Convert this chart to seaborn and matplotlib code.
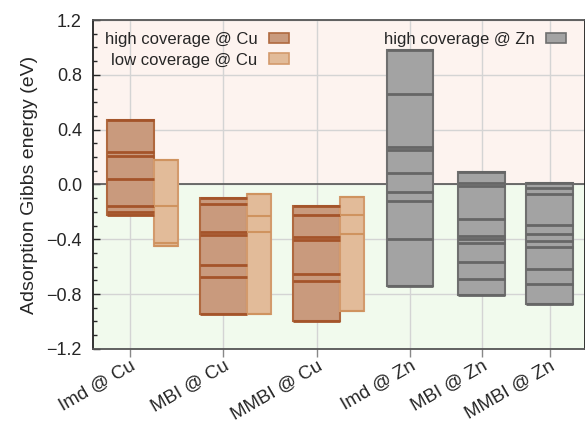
import numpy as np
import pandas as pd
import matplotlib
matplotlib.use("Agg")
import matplotlib.pyplot as plt
import seaborn as sns
from matplotlib.patches import Patch

categories = ["Imd @ Cu", "MBI @ Cu", "MMBI @ Cu", "Imd @ Zn", "MBI @ Zn", "MMBI @ Zn"]

# adsorption energies (eV) of every configuration
cu_high = {
    "Imd @ Cu": [0.47, 0.24, 0.21, 0.04, -0.155, -0.20, -0.22],
    "MBI @ Cu": [-0.10, -0.14, -0.345, -0.37, -0.59, -0.675, -0.945],
    "MMBI @ Cu": [-0.16, -0.22, -0.385, -0.405, -0.655, -0.705, -1.0],
}
cu_low = {
    "Imd @ Cu": [0.18, -0.155, -0.43, -0.45],
    "MBI @ Cu": [-0.07, -0.23, -0.35, -0.945],
    "MMBI @ Cu": [-0.09, -0.22, -0.36, -0.925],
}
zn_high = {
    "Imd @ Zn": [0.98, 0.66, 0.27, 0.25, 0.08, -0.055, -0.12, -0.395, -0.74],
    "MBI @ Zn": [0.09, 0.01, -0.01, -0.255, -0.375, -0.40, -0.43, -0.565, -0.69, -0.81],
    "MMBI @ Zn": [0.01, -0.025, -0.07, -0.295, -0.36, -0.41, -0.46, -0.62, -0.725, -0.87],
}

# horizontal slot of each category on the x axis
slots = [0, 1, 2, 3, 3.77, 4.5]

rows = []
for name, d in [("high coverage @ Cu", cu_high), ("low coverage @ Cu", cu_low), ("high coverage @ Zn", zn_high)]:
    for cat, vals in d.items():
        for v in vals:
            rows.append({"series": name, "cat": cat, "E": v})
df = pd.DataFrame(rows)

sns.set_theme(style="ticks")
plt.rcParams["font.family"] = ["Liberation Sans", "DejaVu Sans"]

styles = {
    "high coverage @ Cu": dict(fc="#c99a7d", ec="#b0693f", lc="#a4542a", lw=2.0, w=0.5, off=0.0),
    "low coverage @ Cu": dict(fc="#e2bb99", ec="#d39a6c", lc="#cf935f", lw=1.5, w=0.26, off=0.38),
    "high coverage @ Zn": dict(fc="#a3a3a3", ec="#6f6f6f", lc="#666666", lw=2.0, w=0.5, off=0.0),
}

fig, ax = plt.subplots(figsize=(5.85, 4.26), dpi=100)
fig.subplots_adjust(left=0.159, right=1.0, bottom=0.181, top=0.953)

ax.axhspan(0, 1.2, color="#fdf3ef", zorder=0)
ax.axhspan(-1.2, 0, color="#f1faed", zorder=0)
ax.grid(True, color="#d4d4d4", lw=1.0, zorder=0.5)
ax.set_axisbelow(True)
ax.axhline(0, color="#555555", lw=1.2, zorder=1)

slot_of = dict(zip(categories, slots))
for series, g in df.groupby("series", sort=False):
    s = styles[series]
    agg = g.groupby("cat", sort=False)["E"].agg(["min", "max"]).reset_index()
    xs = [slot_of[c] + s["off"] for c in agg["cat"]]
    ax.bar(xs, agg["max"] - agg["min"], bottom=agg["min"], width=s["w"],
           color=s["fc"], edgecolor=s["ec"], linewidth=1.5, zorder=2)
    gx = np.array([slot_of[c] + s["off"] for c in g["cat"]])
    ax.hlines(g["E"], gx - s["w"] / 2, gx + s["w"] / 2, color=s["lc"], lw=s["lw"], zorder=3)

ax.set_xlim(-0.4, 4.88)
ax.set_ylim(-1.2, 1.2)
ax.set_xticks(slots)
ax.set_xticklabels(categories, rotation=30, ha="right", va="top", rotation_mode="anchor", fontsize=13.5)
yt = np.arange(-1.2, 1.21, 0.4)
ax.set_yticks(yt)
ax.set_yticklabels([f"{v:.1f}".replace("-", "\u2212") for v in yt], fontsize=13)
ax.set_yticks(np.arange(-1.2, 1.21, 0.1), minor=True)
ax.tick_params(axis="y", which="both", direction="in", length=5, width=1, pad=8)
ax.tick_params(axis="y", which="minor", length=3)
ax.tick_params(axis="x", direction="out", length=6, width=1, color="#888888", pad=0)
ax.set_ylabel("Adsorption Gibbs energy (eV)", fontsize=14, labelpad=6)
for sp in ax.spines.values():
    sp.set_color("#222222")
    sp.set_linewidth(1.3)
ax.spines["bottom"].set_color("#555555")
ax.spines["top"].set_color("#555555")

h1 = [Patch(fc=styles[k]["fc"], ec=styles[k]["ec"], lw=1.2, label=k)
      for k in ["high coverage @ Cu", "low coverage @ Cu"]]
leg1 = ax.legend(handles=h1, loc="upper left", bbox_to_anchor=(0.0, 1.0), frameon=False,
                 markerfirst=False, fontsize=12, handlelength=1.2, handleheight=0.6,
                 labelspacing=0.35, borderaxespad=0.3, handletextpad=0.7)
for t in leg1.get_texts():
    t.set_ha("right")
ax.add_artist(leg1)
h2 = [Patch(fc=styles["high coverage @ Zn"]["fc"], ec=styles["high coverage @ Zn"]["ec"], lw=1.2,
            label="high coverage @ Zn")]
ax.legend(handles=h2, loc="upper right", bbox_to_anchor=(0.985, 1.0), frameon=False,
          markerfirst=False, fontsize=12, handlelength=1.2, handleheight=0.6,
          borderaxespad=0.3, handletextpad=0.7)

fig.savefig("out.png", dpi=100)
